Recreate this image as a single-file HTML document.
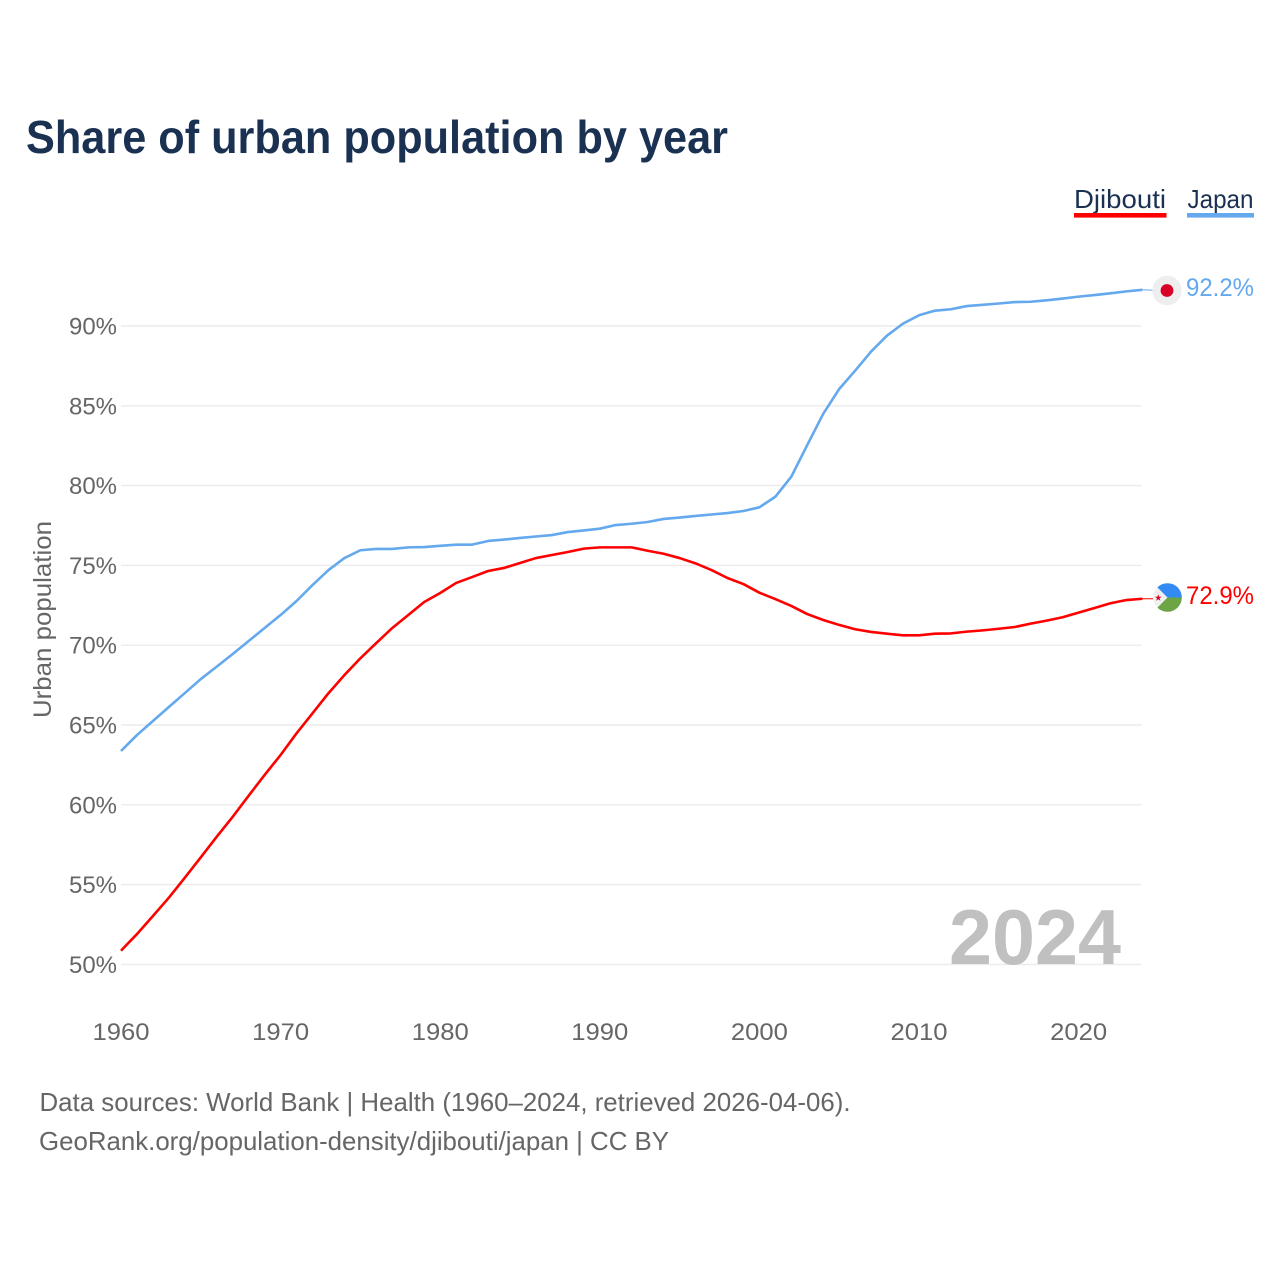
<!DOCTYPE html>
<html lang="en">
<head>
<meta charset="utf-8">
<title>Share of urban population by year</title>
<style>
html,body{margin:0;padding:0;background:#fff;width:1280px;height:1280px;overflow:hidden}
svg{display:block;font-family:"Liberation Sans",sans-serif}
</style>
</head>
<body>
<svg id="chart" width="1280" height="1280" viewBox="0 0 1280 1280" xmlns="http://www.w3.org/2000/svg">
  <rect x="0" y="0" width="1280" height="1280" fill="#ffffff"/>
  <text x="26" y="153" font-size="46" font-weight="700" fill="#1a3152" textLength="702" lengthAdjust="spacingAndGlyphs">Share of urban population by year</text>

  <g>
    <text x="1074" y="208" font-size="26" fill="#1a3152" textLength="92" lengthAdjust="spacingAndGlyphs">Djibouti</text>
    <rect x="1074" y="213" width="92.5" height="4.6" fill="#ff0000"/>
  </g>
  <g>
    <text x="1187.5" y="208" font-size="26" fill="#1a3152" textLength="66" lengthAdjust="spacingAndGlyphs">Japan</text>
    <rect x="1187" y="213" width="67" height="4.6" fill="#64a8ee"/>
  </g>

  <g id="grid"></g>
  <g id="y-ticks"></g>
  <g id="x-ticks"></g>

  <text transform="translate(51 718) rotate(-90)" x="0" y="0" font-size="25" fill="#666666" textLength="197" lengthAdjust="spacingAndGlyphs">Urban population</text>

  <text x="949" y="964" font-size="78" font-weight="700" fill="#c0c0c0" textLength="172" lengthAdjust="spacingAndGlyphs">2024</text>

  <g id="series"></g>

  <g>
    <circle cx="1167" cy="290.5" r="14.7" fill="#eeeeee"/>
    <circle cx="1167" cy="290.5" r="6.4" fill="#d80027"/>
  </g>
  <text x="1186" y="296" font-size="25" fill="#64a8ee" textLength="68" lengthAdjust="spacingAndGlyphs">92.2%</text>

  <g>
    <circle cx="1167.5" cy="597.5" r="14.3" fill="#f0f0f0"/>
    <path d="M1157.4 587.4 A14.3 14.3 0 0 1 1181.8 597.5 L1167.5 597.5 Z" fill="#338af3"/>
    <path d="M1157.4 607.6 A14.3 14.3 0 0 0 1181.8 597.5 L1167.5 597.5 Z" fill="#6da544"/>
    <polygon points="1158.3,594.2 1159.1,596.7 1161.7,596.7 1159.6,598.2 1160.4,600.7 1158.3,599.2 1156.2,600.7 1157,598.2 1154.9,596.7 1157.5,596.7" fill="#d80027"/>
  </g>
  <text x="1186" y="604" font-size="25" fill="#ff0000" textLength="68" lengthAdjust="spacingAndGlyphs">72.9%</text>

  <text x="39.5" y="1111" font-size="26" fill="#666666" textLength="811" lengthAdjust="spacingAndGlyphs">Data sources: World Bank | Health (1960–2024, retrieved 2026-04-06).</text>
  <a><text x="39" y="1150" font-size="26" fill="#666666" textLength="630" lengthAdjust="spacingAndGlyphs">GeoRank.org/population-density/djibouti/japan | CC BY</text></a>
</svg>
<script>
const startYear = 1960;
const endYear = 2024;
const yTickValues = [50, 55, 60, 65, 70, 75, 80, 85, 90];
const xTickValues = [1960, 1970, 1980, 1990, 2000, 2010, 2020];
const djiboutiValues = [
  50.86, 51.90, 53.03, 54.18, 55.43, 56.71, 58.00, 59.25, 60.57, 61.87,
  63.12, 64.48, 65.73, 66.99, 68.13, 69.18, 70.14, 71.08, 71.89, 72.71,
  73.27, 73.90, 74.27, 74.65, 74.84, 75.15, 75.46, 75.65, 75.84, 76.05,
  76.13, 76.13, 76.13, 75.92, 75.73, 75.46, 75.13, 74.71, 74.21, 73.83,
  73.29, 72.89, 72.46, 71.95, 71.58, 71.27, 71.00, 70.83, 70.72, 70.62,
  70.62, 70.72, 70.74, 70.85, 70.93, 71.03, 71.14, 71.35, 71.54, 71.75,
  72.04, 72.33, 72.63, 72.83, 72.91
];
const japanValues = [
  63.37, 64.37, 65.25, 66.13, 67.00, 67.88, 68.66, 69.45, 70.26, 71.08,
  71.89, 72.77, 73.77, 74.71, 75.46, 75.95, 76.03, 76.03, 76.13, 76.15,
  76.23, 76.30, 76.30, 76.53, 76.62, 76.72, 76.81, 76.90, 77.09, 77.19,
  77.30, 77.53, 77.61, 77.72, 77.91, 78.00, 78.10, 78.19, 78.28, 78.41,
  78.64, 79.30, 80.56, 82.54, 84.50, 86.05, 87.20, 88.40, 89.40, 90.15,
  90.67, 90.96, 91.05, 91.25, 91.33, 91.41, 91.50, 91.52, 91.61, 91.72,
  91.84, 91.94, 92.05, 92.17, 92.27
];

const SVG_NS = 'http://www.w3.org/2000/svg';
function xScale(year) {
  return 121 + (year - startYear) * (1142.4 - 121) / (endYear - startYear);
}
function yScale(value) {
  return 964.4 - (value - 50) * (964.4 - 326) / 40;
}
function linePath(values) {
  return values.map(function (v, i) {
    return (i === 0 ? 'M' : 'L') + xScale(startYear + i).toFixed(2) + ' ' + yScale(v).toFixed(2);
  }).join(' ');
}

const grid = document.getElementById('grid');
const yTicks = document.getElementById('y-ticks');
yTickValues.forEach(function (v) {
  const ln = document.createElementNS(SVG_NS, 'line');
  
  
  ln.setAttribute('x1', 121);
  ln.setAttribute('x2', 1141.5);
  ln.setAttribute('y1', yScale(v));
  ln.setAttribute('y2', yScale(v));
  ln.setAttribute('stroke', '#ebebeb');
  ln.setAttribute('stroke-width', '1.4');
  grid.appendChild(ln);

  const t = document.createElementNS(SVG_NS, 'text');
  
  
  t.setAttribute('x', 69);
  t.setAttribute('y', yScale(v) + 8.5);
  t.setAttribute('font-size', '24');
  t.setAttribute('fill', '#666666');
  t.setAttribute('textLength', '48');
  t.setAttribute('lengthAdjust', 'spacingAndGlyphs');
  t.textContent = v + '%';
  yTicks.appendChild(t);
});

const xTicks = document.getElementById('x-ticks');
xTickValues.forEach(function (year) {
  const t = document.createElementNS(SVG_NS, 'text');
  
  
  t.setAttribute('x', xScale(year) - 28.5);
  t.setAttribute('y', 1040);
  t.setAttribute('font-size', '24');
  t.setAttribute('fill', '#666666');
  t.setAttribute('textLength', '57');
  t.setAttribute('lengthAdjust', 'spacingAndGlyphs');
  t.textContent = year;
  xTicks.appendChild(t);
});

const seriesGroup = document.getElementById('series');

const japanLine = document.createElementNS(SVG_NS, 'path');


japanLine.setAttribute('d', linePath(japanValues));
japanLine.setAttribute('fill', 'none');
japanLine.setAttribute('stroke', '#64a8ee');
japanLine.setAttribute('stroke-width', '2.6');
japanLine.setAttribute('stroke-linejoin', 'round');
seriesGroup.appendChild(japanLine);

const djiboutiLine = document.createElementNS(SVG_NS, 'path');


djiboutiLine.setAttribute('d', linePath(djiboutiValues));
djiboutiLine.setAttribute('fill', 'none');
djiboutiLine.setAttribute('stroke', '#ff0000');
djiboutiLine.setAttribute('stroke-width', '2.6');
djiboutiLine.setAttribute('stroke-linejoin', 'round');
seriesGroup.appendChild(djiboutiLine);

const japanConnector = document.createElementNS(SVG_NS, 'line');


japanConnector.setAttribute('x1', xScale(endYear));
japanConnector.setAttribute('x2', 1153);
japanConnector.setAttribute('y1', yScale(japanValues[japanValues.length - 1]));
japanConnector.setAttribute('y2', yScale(japanValues[japanValues.length - 1]) + 0.5);
japanConnector.setAttribute('stroke', '#64a8ee');
japanConnector.setAttribute('stroke-width', '1');
seriesGroup.appendChild(japanConnector);

const djiboutiConnector = document.createElementNS(SVG_NS, 'line');


djiboutiConnector.setAttribute('x1', xScale(endYear));
djiboutiConnector.setAttribute('x2', 1153);
djiboutiConnector.setAttribute('y1', yScale(djiboutiValues[djiboutiValues.length - 1]));
djiboutiConnector.setAttribute('y2', yScale(djiboutiValues[djiboutiValues.length - 1]));
djiboutiConnector.setAttribute('stroke', '#ff0000');
djiboutiConnector.setAttribute('stroke-width', '1');
seriesGroup.appendChild(djiboutiConnector);
</script>
</body>
</html>
